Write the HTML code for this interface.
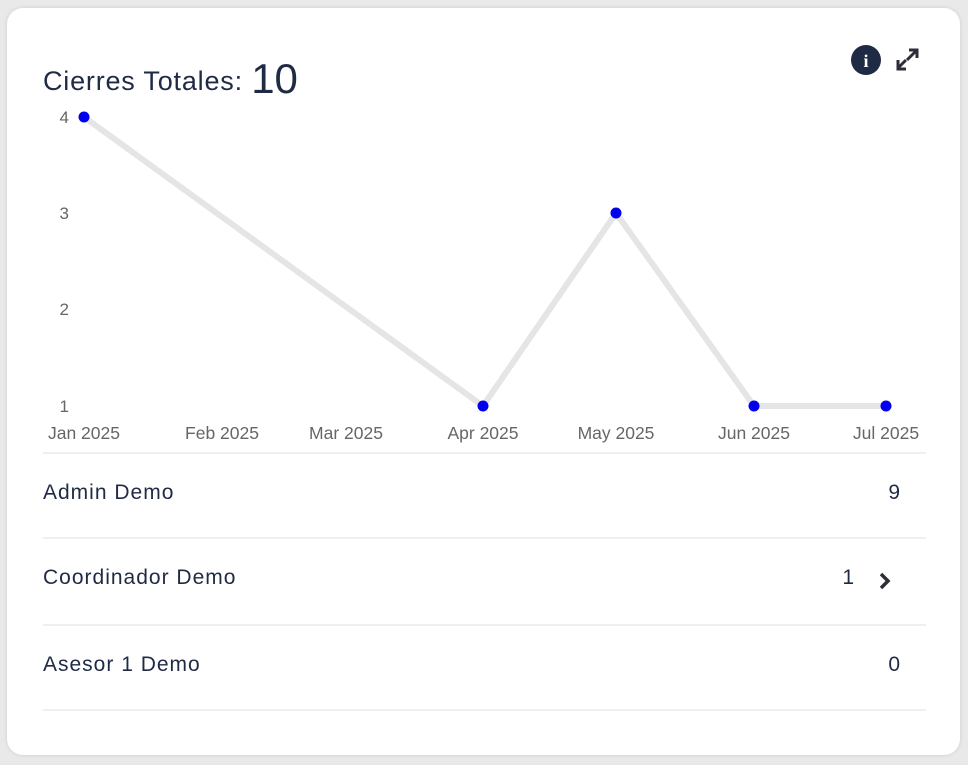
<!DOCTYPE html>
<html><head><style>
body{margin:0;width:968px;height:765px;background:#e9e9e9;font-family:"Liberation Sans",sans-serif;overflow:hidden;position:relative}
.card{position:absolute;left:7px;top:8px;width:953px;height:747px;background:#fff;border-radius:16px;box-shadow:0 0 4px rgba(0,0,0,.12)}
.t{position:absolute;color:#1f2a44;white-space:nowrap}
.row{position:absolute;left:43px;width:858px;font-size:21px;letter-spacing:1px;color:#1f2a44}
.hr{position:absolute;left:43px;width:883px;height:2px;background:#efefef}
</style></head><body>
<div class="card"></div>
<div class="t" style="left:43px;top:52px;font-size:27px;letter-spacing:0.8px">Cierres Totales: <span style="font-size:42px;position:relative;top:3px;letter-spacing:0">10</span></div>
<svg style="position:absolute;left:0;top:0" width="968" height="765">
<circle cx="866" cy="60" r="15" fill="#1f2a44"/>
<text x="866" y="67" font-size="18" font-weight="bold" fill="#fff" text-anchor="middle" font-family="Liberation Serif">i</text>
<g stroke="#2e2e3a" stroke-width="3" fill="none">
<path d="M907 60 L916 51 M909 50 H917 V58"/><path d="M906 60 L898 68 M898 60 V69 H906"/>
</g>
<polyline points="84,117 483,406 616,213 754,406 886,406" fill="none" stroke="#e5e5e5" stroke-width="6" stroke-linejoin="round"/>
<g fill="#0000ee"><circle cx="84" cy="117" r="5.5"/><circle cx="483" cy="406" r="5.5"/><circle cx="616" cy="213" r="5.5"/><circle cx="754" cy="406" r="5.5"/><circle cx="886" cy="406" r="5.5"/></g>
<g font-size="17" fill="#666" text-anchor="end"><text x="69" y="123">4</text><text x="69" y="219">3</text><text x="69" y="315">2</text><text x="69" y="412">1</text></g>
<g font-size="17.5" fill="#666" text-anchor="middle"><text x="84" y="439">Jan 2025</text><text x="222" y="439">Feb 2025</text><text x="346" y="439">Mar 2025</text><text x="483" y="439">Apr 2025</text><text x="616" y="439">May 2025</text><text x="754" y="439">Jun 2025</text><text x="886" y="439">Jul 2025</text></g>
<path d="M881 574 L888 581 L881 588" stroke="#2e2e3a" stroke-width="3.5" fill="none"/>
</svg>
<div class="hr" style="top:452px"></div>
<div class="row" style="top:481px">Admin Demo<span style="float:right">9</span></div>
<div class="hr" style="top:537px"></div>
<div class="row" style="top:566px;width:812px">Coordinador Demo<span style="float:right">1</span></div>
<div class="hr" style="top:624px"></div>
<div class="row" style="top:653px">Asesor 1 Demo<span style="float:right">0</span></div>
<div class="hr" style="top:709px"></div>
</body></html>
